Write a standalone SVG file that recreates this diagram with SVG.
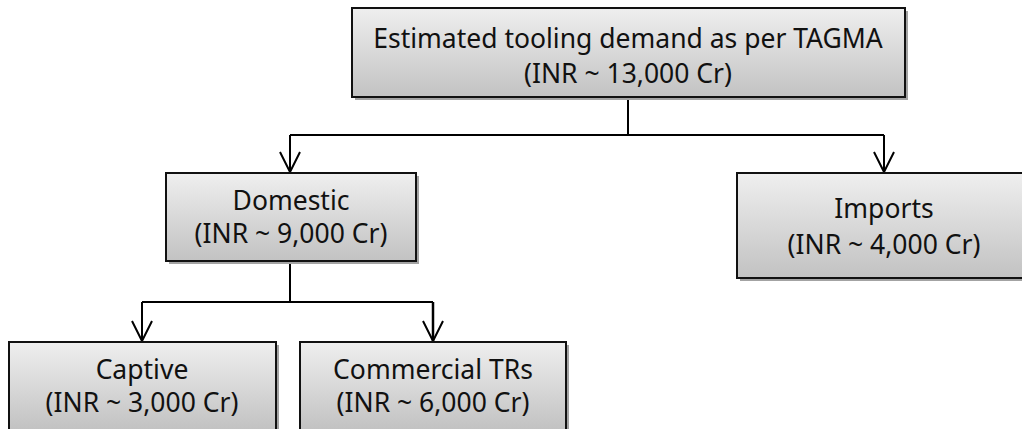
<svg xmlns="http://www.w3.org/2000/svg" width="1022" height="429" viewBox="0 0 1022 429">
<defs>
<linearGradient id="g" x1="0" y1="0" x2="0" y2="1">
<stop offset="0" stop-color="#efefef"/>
<stop offset="1" stop-color="#c2c2c2"/>
</linearGradient>
<marker id="arr" markerWidth="24" markerHeight="24" refX="21" refY="12" orient="auto" markerUnits="userSpaceOnUse" viewBox="0 0 24 24">
<path d="M1,2 L21,12 L1,22" fill="none" stroke="#000" stroke-width="2"/>
</marker>
</defs>
<style>
.sh{fill:#a3a3a3}
.bx{fill:url(#g);stroke:#111;stroke-width:2}
.t{font-family:"Noto Sans","Liberation Sans",sans-serif;font-size:26.5px;fill:#111;text-anchor:middle}
.c{fill:none;stroke:#000;stroke-width:2}
</style>
<rect width="1022" height="429" fill="#fff"/>
<g id="connectors">
<path class="c" d="M628,97 V135 M290,135 H884"/>
<path class="c" d="M290,135 V172" marker-end="url(#arr)"/>
<path class="c" d="M884,135 V172" marker-end="url(#arr)"/>
<path class="c" d="M290,261 V302 M142,302 H433"/>
<path class="c" d="M142,302 V341" marker-end="url(#arr)"/>
<path class="c" d="M433,302 V341" marker-end="url(#arr)" style="stroke-width:2.5"/>
</g>
<g id="top">
<rect class="sh" x="355" y="11" width="553" height="89"/>
<rect class="bx" x="352" y="8" width="553" height="89"/>
<text class="t" x="628" y="48">Estimated tooling demand as per TAGMA</text>
<text class="t" x="628" y="83">(INR ~ 13,000 Cr)</text>
</g>
<g id="domestic">
<rect class="sh" x="169" y="176" width="250" height="88"/>
<rect class="bx" x="166" y="173" width="250" height="88"/>
<text class="t" x="291" y="210">Domestic</text>
<text class="t" x="291" y="243">(INR ~ 9,000 Cr)</text>
</g>
<g id="imports">
<rect class="sh" x="740" y="176" width="294" height="105"/>
<rect class="bx" x="737" y="173" width="294" height="105"/>
<text class="t" x="884" y="218">Imports</text>
<text class="t" x="884" y="254">(INR ~ 4,000 Cr)</text>
</g>
<g id="captive">
<rect class="sh" x="12" y="345" width="267" height="88"/>
<rect class="bx" x="9" y="342" width="267" height="88"/>
<text class="t" x="142" y="379">Captive</text>
<text class="t" x="142" y="412">(INR ~ 3,000 Cr)</text>
</g>
<g id="commercial">
<rect class="sh" x="303" y="345" width="266" height="88"/>
<rect class="bx" x="300" y="342" width="266" height="88"/>
<text class="t" x="433" y="379">Commercial TRs</text>
<text class="t" x="433" y="412">(INR ~ 6,000 Cr)</text>
</g>
</svg>
